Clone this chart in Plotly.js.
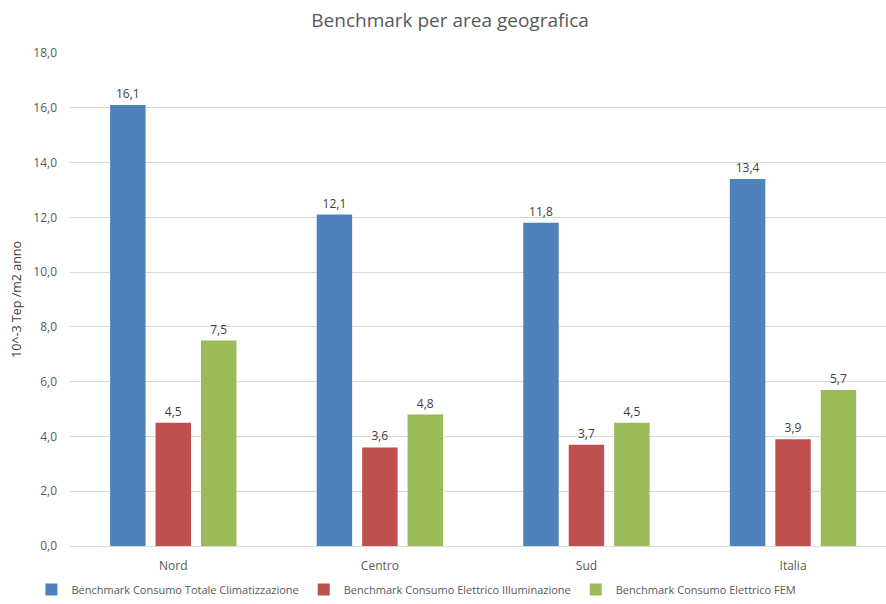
<!DOCTYPE html>
<html>
<head>
<meta charset="utf-8">
<script src="https://cdn.plot.ly/plotly-3.0.1.min.js"></script>
<style>
  html, body { margin: 0; padding: 0; background: #fff; }
  #chart { width: 886px; height: 604px; }
</style>
</head>
<body>
<div id="chart"></div>
<script>
// Areas and benchmark values (10^-3 Tep / m2 anno)
const areas = ["Nord", "Centro", "Sud", "Italia"];
const climatizzazione = [16.1, 12.1, 11.8, 13.4];
const illuminazione = [4.5, 3.6, 3.7, 3.9];
const fem = [7.5, 4.8, 4.5, 5.7];

const seriesNames = [
  "Benchmark Consumo Totale Climatizzazione",
  "Benchmark Consumo Elettrico Illuminazione",
  "Benchmark Consumo Elettrico FEM"
];
const seriesColors = ["#4F81BD", "#C0504D", "#9BBB59"];
const seriesValues = [climatizzazione, illuminazione, fem];

const font = "Open Sans, Liberation Sans, sans-serif";

const traces = seriesValues.map((vals, i) => ({
  type: "bar",
  name: seriesNames[i],
  x: areas,
  y: vals,
  marker: { color: seriesColors[i] },
  texttemplate: "%{y:.1f}",
  textposition: "outside",
  cliponaxis: false,
  textfont: { family: font, size: 12, color: "#404040" },
  hoverinfo: "x+y+name"
}));

const layout = {
  width: 886,
  height: 604,
  separators: ",.",
  paper_bgcolor: "#ffffff",
  plot_bgcolor: "#ffffff",
  font: { family: font, color: "#595959" },
  title: {
    text: "Benchmark per area geografica",
    font: { family: font, size: 19, color: "#595959" },
    x: 0.508, xanchor: "center",
    y: 0.967, yanchor: "middle"
  },
  margin: { l: 70, r: 0, t: 53, b: 58 },
  barmode: "group",
  bargap: 0.34,
  bargroupgap: 0.22,
  xaxis: {
    type: "category",
    range: [-0.5, 3.45],
    showgrid: false,
    showline: true,
    linecolor: "#D9D9D9",
    linewidth: 1,
    ticks: "",
    tickfont: { family: font, size: 12, color: "#595959" },
    ticklabelstandoff: 9,
    fixedrange: true
  },
  yaxis: {
    range: [0, 18],
    dtick: 2,
    tickformat: ".1f",
    showgrid: true,
    gridcolor: "#D9D9D9",
    gridwidth: 1,
    zeroline: false,
    showline: false,
    ticks: "",
    ticklabelstandoff: 12,
    tickfont: { family: font, size: 12, color: "#595959" },
    title: {
      text: "10^-3 Tep /m2 anno",
      font: { family: font, size: 12.5, color: "#404040" },
      standoff: 8
    },
    fixedrange: true
  },
  legend: {
    orientation: "h",
    xref: "container",
    yref: "container",
    x: 0.47, xanchor: "center",
    y: -0.009, yanchor: "bottom",
    font: { family: font, size: 11, color: "#595959" },
    itemwidth: 30,
    traceorder: "normal"
  },
  showlegend: true
};

Plotly.newPlot("chart", traces, layout, { displayModeBar: false, staticPlot: true });
</script>
</body>
</html>
